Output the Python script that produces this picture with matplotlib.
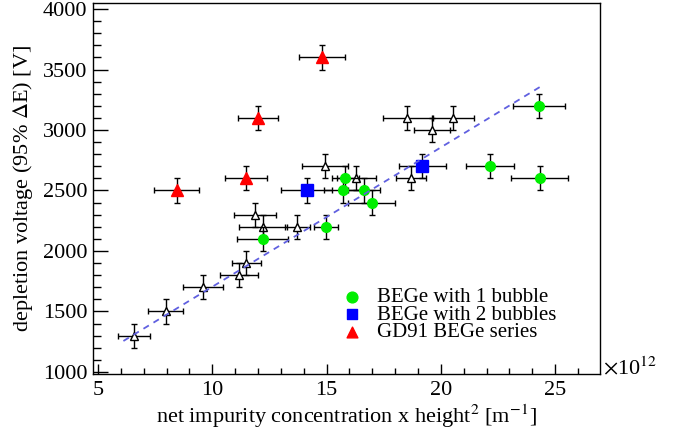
import matplotlib
matplotlib.use('Agg')
import matplotlib.pyplot as plt
from matplotlib.ticker import MultipleLocator

plt.rcParams['font.family'] = ['Liberation Serif', 'DejaVu Serif']
plt.rcParams['mathtext.fontset'] = 'stix'

# other BEGe detectors (open triangles), x in units of 1e12 m^-1
otherX = [6.57, 7.96, 9.6, 11.17, 11.48, 11.88, 12.22, 13.72, 14.94, 16.31, 18.54, 19.63, 20.55, 18.69]
otherY = [1300, 1500, 1700, 1800, 1900, 2300, 2200, 2200, 2700, 2600, 3100, 3000, 3100, 2600]
otherXerr = [0.70, 0.76, 0.87, 0.82, 0.63, 0.91, 1.06, 0.55, 1.02, 0.85, 1.09, 0.79, 0.91, 0.67]

# BEGe with 1 bubble
oneX = [12.2, 14.96, 15.74, 15.82, 16.65, 16.98, 22.16, 24.29, 24.32]
oneY = [2100, 2200, 2500, 2600, 2500, 2400, 2700, 3200, 2600]
oneXerr = [1.11, 0.52, 0.84, 0.6, 0.7, 1.03, 1.04, 1.14, 1.25]

# BEGe with 2 bubbles
twoX = [14.13, 19.19]
twoY = [2500, 2700]
twoXerr = [1.12, 1.03]

# GD91 BEGe series
gdX = [8.44, 11.49, 12.0, 14.8]
gdY = [2500, 2600, 3100, 3600]
gdXerr = [0.97, 0.92, 0.89, 1.0]

yErr = 100

# linear fit
fitSlope = 115.2
fitIntercept = 552
fitRange = [6.11, 24.43]

fig = plt.figure(figsize=(6.8, 4.32), dpi=100)
ax = fig.add_axes([0.1368, 0.1343, 0.746, 0.8588])

errStyle = dict(ecolor='black', elinewidth=1, capsize=2, capthick=1, linestyle='none')

ax.errorbar(otherX, otherY, xerr=otherXerr, yerr=yErr, marker='^', ms=5.5,
            mfc='white', mec='black', mew=1, zorder=3, **errStyle)
ax.errorbar(oneX, oneY, xerr=oneXerr, yerr=yErr, marker='o', ms=7,
            mfc='#00ee00', mec='#00ee00', zorder=4, **errStyle)
ax.errorbar(twoX, twoY, xerr=twoXerr, yerr=yErr, marker='s', ms=8,
            mfc='#0000ff', mec='#0000ff', zorder=4, **errStyle)
ax.errorbar(gdX, gdY, xerr=gdXerr, yerr=yErr, marker='^', ms=8,
            mfc='#ff0000', mec='#ff0000', zorder=4, **errStyle)

fitY = [fitIntercept + fitSlope * x for x in fitRange]
ax.plot(fitRange, fitY, linestyle=(0, (3.5, 3)), color='#6060e0', lw=1.3, zorder=5)

h1 = ax.scatter([], [], marker='o', s=60, color='#00ee00')
h2 = ax.scatter([], [], marker='s', s=60, color='#0000ff')
h3 = ax.scatter([], [], marker='^', s=60, color='#ff0000')
ax.legend([h1, h2, h3], ['BEGe with 1 bubble', 'BEGe with 2 bubbles', 'GD91 BEGe series'],
          loc='lower left', bbox_to_anchor=(0.465, 0.058), frameon=False, fontsize=15,
          labelspacing=-0.1, handletextpad=0.6, handlelength=1.2, borderpad=0)

ax.set_xlim(4.78, 26.98)
ax.set_ylim(983, 4050)
ax.xaxis.set_major_locator(MultipleLocator(5))
ax.xaxis.set_minor_locator(MultipleLocator(1))
ax.yaxis.set_major_locator(MultipleLocator(500))
ax.yaxis.set_minor_locator(MultipleLocator(100))
ax.tick_params(axis='both', which='both', direction='in', top=False, right=False,
               labelsize=16, width=1)
ax.tick_params(axis='y', which='major', length=11, pad=4)
ax.tick_params(axis='y', which='minor', length=6)
ax.tick_params(axis='x', which='major', length=7, pad=5)
ax.tick_params(axis='x', which='minor', length=4)
for sp in ax.spines.values():
    sp.set_linewidth(1)

ax.set_xlabel('net impurity concentration x height$^{2}$ [m$^{-1}$]', fontsize=16, labelpad=2)
ax.set_ylabel('depletion voltage (95% $\\Delta$E) [V]', fontsize=16, labelpad=6)
ax.text(1.005, 0.0, '$\\times$10$^{12}$', transform=ax.transAxes, fontsize=16,
        ha='left', va='baseline')

fig.savefig('out.png', dpi=100)
